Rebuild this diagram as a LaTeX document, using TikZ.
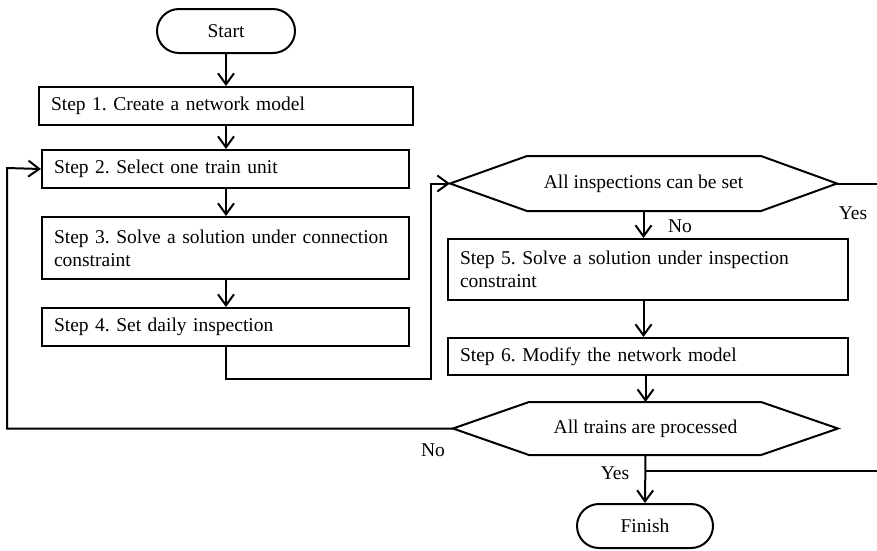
\documentclass[tikz,border=0pt]{standalone}
\usepackage{fontspec}
\setmainfont{Liberation Serif}
\usetikzlibrary{arrows.meta,shapes.misc,calc}
\begin{document}
\frenchspacing
\begin{tikzpicture}[x=1pt,y=-1pt,
  every node/.style={font=\fontsize{19.5}{23}\selectfont},
  stepbox/.style={draw, line width=2pt, rectangle, anchor=north west, inner xsep=12pt, inner ysep=0pt, align=left},
  term/.style={draw, line width=2pt, rounded rectangle, minimum width=138pt, minimum height=44pt, inner sep=0pt},
  hexnode/.style={minimum width=#1, inner sep=0pt, outer sep=0pt},
  conn/.style={line width=2pt},
  arr/.style={conn, -{Straight Barb[length=11pt,width=16pt,line width=2pt]}},
  lbl/.style={inner sep=0pt}
]
\useasboundingbox (0,0) rectangle (877,550);

\node[term] (start) at (226,31) {Start};
\node[stepbox, text width=350pt, minimum height=38pt] (s1) at (38,86) {Step 1. Create a network model};
\node[stepbox, text width=343pt, minimum height=38pt] (s2) at (41,149) {Step 2. Select one train unit};
\node[stepbox, text width=343pt, minimum height=62pt] (s3) at (41,216) {Step 3. Solve a solution under connection\\constraint};
\node[stepbox, text width=343pt, minimum height=38pt] (s4) at (41,307) {Step 4. Set daily inspection};

\node[hexnode=387pt, minimum height=55pt] (h1) at (643.5,183.5) {All inspections can be set};
\draw[conn] (h1.west) -- ([xshift=77pt]h1.north west) -- ([xshift=-76pt]h1.north east) -- (h1.east)
  -- ([xshift=-76pt]h1.south east) -- ([xshift=77pt]h1.south west) -- cycle;

\node[stepbox, text width=376pt, minimum height=61pt] (s5) at (447,238) {Step 5. Solve a solution under inspection\\constraint};
\node[stepbox, text width=376pt, minimum height=37pt] (s6) at (447,337) {Step 6. Modify the network model};

\node[hexnode=385pt, minimum height=53pt] (h2) at (645.5,428.5) {All trains are processed};
\draw[conn] (h2.west) -- ([xshift=76pt]h2.north west) -- ([xshift=-77pt]h2.north east) -- (h2.east)
  -- ([xshift=-77pt]h2.south east) -- ([xshift=76pt]h2.south west) -- cycle;

\node[term, minimum width=136pt] (finish) at (645,526) {Finish};

% connectors
\draw[arr] (start.south) -- (start.south |- s1.north);
\draw[arr] (s1.south -| start.south) -- (s2.north -| start.south);
\draw[arr] (s2.south -| start.south) -- (s3.north -| start.south);
\draw[arr] (s3.south -| start.south) -- (s4.north -| start.south);
\coordinate (c1) at (431,379);
\draw[arr] (s4.south -| start.south) |- (c1) |- (h1.west);
\draw[arr] (h1.south) -- (s5.north -| h1.south);
\draw[arr] (s5.south -| h1.south) -- (s6.north -| h1.south);
\draw[arr] (s6.south -| h2.north) -- (h2.north);
\draw[arr] (h2.south) -- (finish.north);
\coordinate (lp) at (7,168);
\draw[arr] (h2.west) -| (lp) -- (s2.west);
\coordinate (e1) at (877,183.5);
\draw[conn] (h1.east) -- (e1);
\coordinate (e2) at (877,471);
\draw[conn] (h2.south |- e2) -- (e2);

% labels
\node[lbl] at (853,213) {Yes};
\node[lbl] at (680,226) {No};
\node[lbl] at (433,450) {No};
\node[lbl] at (615,473) {Yes};
\end{tikzpicture}
\end{document}
